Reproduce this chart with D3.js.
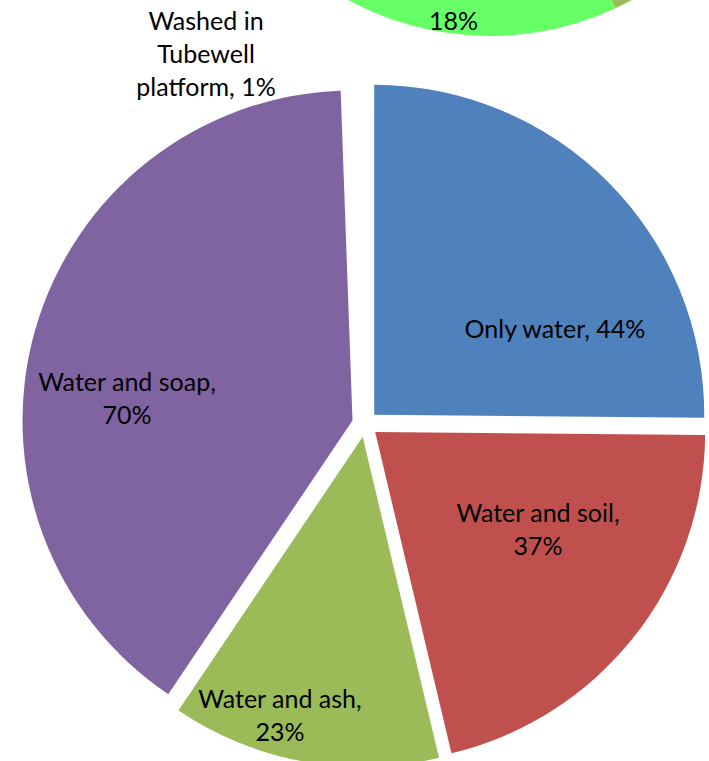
<!DOCTYPE html>
<html>
<head>
<meta charset="utf-8">
<script src="https://cdn.jsdelivr.net/npm/d3@7"></script>
<style>
  html, body { margin: 0; padding: 0; background: #ffffff; }
  svg { display: block; }
  text { font-family: Lato, "Open Sans", sans-serif; fill: #000; }
</style>
</head>
<body>
<svg id="chart" width="709" height="761"></svg>
<script>
// Hand-washing material, main pie
const categories = ["Only water", "Water and soil", "Water and ash", "Water and soap", "Washed in Tubewell platform"];
const values = [44, 37, 23, 70, 1];
const colors = ["#4F81BD", "#C0504D", "#9BBB59", "#8064A2", "#FFFFFF"];

// Neighbouring pie (only its lower edge falls inside the frame)
const upperValues = [18, 8];
const upperColors = ["#66FF66", "#9BBB59"];

// Layout
const center = [365, 424], radius = 330, explode = 13;
const upperCenter = [490, -261], upperRadius = 297, upperStart = 155; // degrees
const fontSize = 25, lineH = 33;
const labelSpots = [
  { x: 555, y: 328, wrap: 260 },
  { x: 538, y: 528, wrap: 190 },
  { x: 280, y: 714, wrap: 190 },
  { x: 127, y: 397, wrap: 190 },
  { x: 206, y: 53,  wrap: 150 }
];

const svg = d3.select("#chart");
const rad = deg => deg * Math.PI / 180;

// ---- neighbouring pie, drawn first so the main pie sits over it
const upperGroup = svg.append("g").attr("transform", `translate(${upperCenter})`);
// the 18% share runs clockwise from the start angle, its neighbour counter-clockwise
const upperArcs = [
  { startAngle: rad(upperStart), endAngle: rad(upperStart + upperValues[0] / 100 * 360) },
  { startAngle: rad(upperStart - upperValues[1] / 100 * 360), endAngle: rad(upperStart) }
];
const upperArc = d3.arc().innerRadius(0).outerRadius(upperRadius);
upperGroup.selectAll("path").data(upperArcs).join("path")
  .attr("d", upperArc)
  .attr("fill", (d, i) => upperColors[i]);
{
  const r = upperRadius * 0.955;
  const c = d3.arc().innerRadius(r).outerRadius(r).centroid(upperArcs[0]);
  upperGroup.append("text")
    .attr("x", c[0]).attr("y", c[1])
    .attr("text-anchor", "middle")
    .attr("dominant-baseline", "central")
    .style("font-size", fontSize + "px")
    .text(upperValues[0] + "%");
}

// ---- main pie, every slice exploded outward along its bisector
const pie = d3.pie().sort(null).value(d => d);
const arcs = pie(values);
const arc = d3.arc().innerRadius(0).outerRadius(radius);

const g = svg.append("g").attr("transform", `translate(${center})`);
g.selectAll("path").data(arcs).join("path")
  .attr("transform", d => {
    const mid = (d.startAngle + d.endAngle) / 2;
    return `translate(${explode * Math.sin(mid)},${-explode * Math.cos(mid)})`;
  })
  .attr("d", arc)
  .attr("fill", (d, i) => colors[i]);

// ---- labels: "Category, value%", wrapped to fit
const measure = svg.append("text").style("font-size", fontSize + "px").attr("visibility", "hidden");
function textWidth(s) { measure.text(s); return measure.node().getComputedTextLength(); }
function wrapWords(str, maxW) {
  const words = str.split(" ");
  const lines = [];
  let cur = "";
  words.forEach(w => {
    const test = cur ? cur + " " + w : w;
    if (cur && textWidth(test) > maxW) { lines.push(cur); cur = w; }
    else cur = test;
  });
  if (cur) lines.push(cur);
  return lines;
}

categories.forEach((cat, i) => {
  const spot = labelSpots[i];
  const lines = wrapWords(`${cat}, ${values[i]}%`, spot.wrap);
  const t = svg.append("text")
    .attr("text-anchor", "middle")
    .attr("dominant-baseline", "central")
    .style("font-size", fontSize + "px");
  lines.forEach((ln, k) => {
    t.append("tspan")
      .attr("x", spot.x)
      .attr("y", spot.y + (k - (lines.length - 1) / 2) * lineH)
      .text(ln);
  });
});
measure.remove();
</script>
</body>
</html>
